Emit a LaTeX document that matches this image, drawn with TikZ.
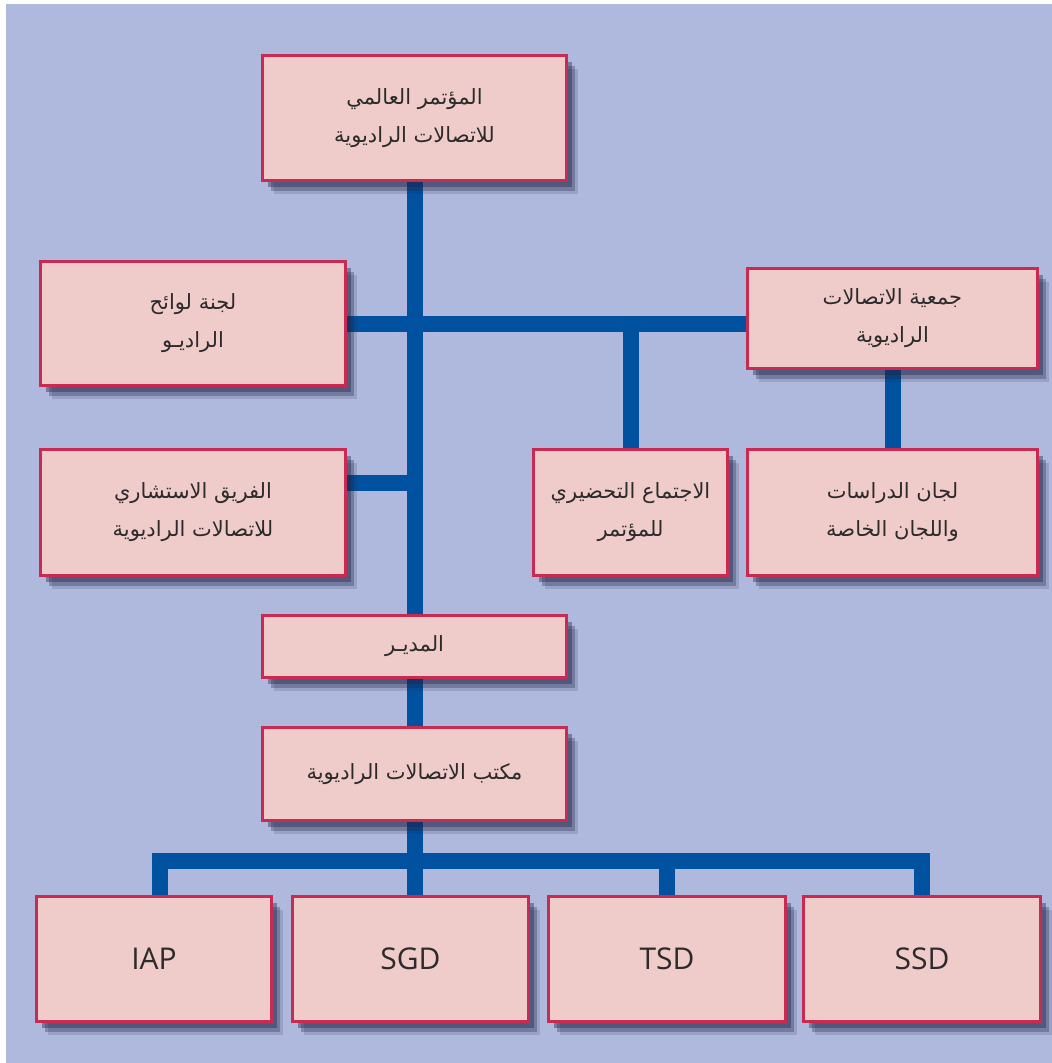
\documentclass[tikz,border=0pt]{standalone}
\usepackage{fontspec}
\usetikzlibrary{shadows}
\setsansfont{Open Sans}
\newfontfamily\arabicfont[Script=Arabic]{DejaVu Sans}
\TeXXeTstate=1

\definecolor{bgblue}{HTML}{AFB9DD}
\definecolor{boxfill}{HTML}{EFCBC9}
\definecolor{boxline}{HTML}{C92A52}
\definecolor{linkblue}{HTML}{0052A0}
\definecolor{shade}{HTML}{1E2448}
\definecolor{txtgray}{HTML}{2B2B2B}

\pgfdeclarelayer{back}
\pgfdeclarelayer{links}
\pgfsetlayers{back,links,main}

\newcommand{\artext}[1]{\beginR #1\endR}

\begin{document}
\begin{tikzpicture}[x=1pt, y=-1pt,
  unit/.style={draw=boxline, line width=3pt, fill=boxfill, text=txtgray,
    inner sep=0pt, align=center,
    drop shadow={shadow xshift=11pt, shadow yshift=-13pt, opacity=.15, fill=shade},
    drop shadow={shadow xshift=8pt, shadow yshift=-10pt, opacity=.3, fill=shade},
    drop shadow={shadow xshift=5pt, shadow yshift=-6pt, opacity=.4, fill=shade},
    font=\arabicfont\fontsize{21}{38}\selectfont},
  dept/.style={unit, font=\sffamily\fontsize{30}{36}\selectfont, minimum height=125pt},
  link/.style={draw=linkblue, line width=16pt, line join=miter}]

\useasboundingbox (0,0) rectangle (1052,1063);
\begin{pgfonlayer}{back}
\fill[white] (0,0) rectangle (1052,1063);
\fill[bgblue] (6,4) rectangle (1052,1063);
\end{pgfonlayer}

% conference and its groups
\node[unit, minimum width=304pt, minimum height=125pt] (wrc) at (414.5,118)
  {\artext{المؤتمر العالمي}\\\artext{للاتصالات الراديوية}};
\node[unit, minimum width=305pt, minimum height=124pt] (rrb) at (193,323.5)
  {\artext{لجنة لوائح}\\\artext{الراديـو}};
\node[unit, minimum width=290pt, minimum height=100pt] (ra) at (892.5,318.5)
  {\artext{جمعية الاتصالات}\\\artext{الراديوية}};
\node[unit, minimum width=305pt, minimum height=126pt] (rag) at (193,512.5)
  {\artext{الفريق الاستشاري}\\\artext{للاتصالات الراديوية}};
\node[unit, minimum width=194pt, minimum height=126pt] (cpm) at (630.5,512.5)
  {\artext{الاجتماع التحضيري}\\\artext{للمؤتمر}};
\node[unit, minimum width=290pt, minimum height=126pt] (sg) at (892.5,512.5)
  {\artext{لجان الدراسات}\\\artext{واللجان الخاصة}};

% bureau
\node[unit, minimum width=304pt, minimum height=62pt] (dir) at (414.5,646.5)
  {\artext{المديـر}};
\node[unit, minimum width=304pt, minimum height=93pt] (brb) at (414.5,774)
  {\artext{مكتب الاتصالات الراديوية}};

\node[dept, minimum width=235pt] (iap) at (154,959) {IAP};
\node[dept, minimum width=236pt] (sgd) at (410.5,959) {SGD};
\node[dept, minimum width=237pt] (tsd) at (667,959) {TSD};
\node[dept, minimum width=237pt] (ssd) at (922,959) {SSD};

\coordinate (bus) at (0,861);

\begin{pgfonlayer}{links}
\draw[link] (wrc.south) -- (dir.north);
\draw[link] (rrb.east) -- (ra.west |- rrb.east);
\draw[link] (cpm.north) -- (cpm.north |- rrb.east);
\draw[link] (ra.south) -- (sg.north);
\draw[link] ([yshift=30pt]rag.east) -- ([yshift=30pt]rag.east -| wrc.south);
\draw[link] (dir.south) -- (brb.north);
\draw[link] (brb.south) -- (brb.south |- sgd.north);
\draw[link] ([xshift=6pt]iap.north) |- (ssd.north |- bus) -- (ssd.north);
\draw[link] (tsd.north) -- (tsd.north |- bus);
\end{pgfonlayer}

\end{tikzpicture}
\end{document}
